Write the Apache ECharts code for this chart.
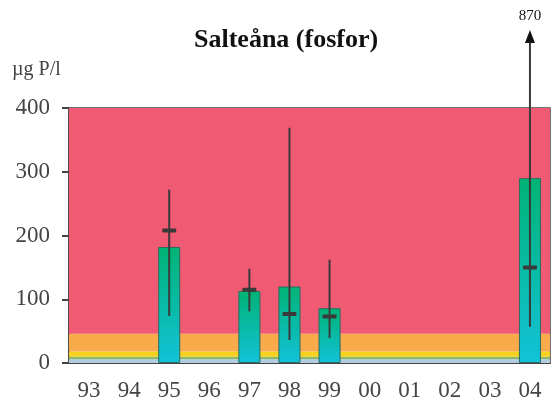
<!DOCTYPE html>
<html>
<head>
<meta charset="utf-8">
<script src="https://cdn.jsdelivr.net/npm/echarts@6/dist/echarts.min.js"></script>
<style>
  html, body { margin: 0; padding: 0; background: #fff; }
  #chart { width: 552px; height: 414px; }
</style>
</head>
<body>
<div id="chart"></div>
<script>
// years (two digit labels)
const years = ['93', '94', '95', '96', '97', '98', '99', '00', '01', '02', '03', '04']
// yearly mean (bars)
const means = ['-', '-', 182, '-', 113, 120, 86, '-', '-', '-', '-', 290]
// min / max / median per year
const mins = [null, null, 74, null, 81, 36, 39, null, null, null, null, 57]
const maxs = [null, null, 272, null, 148, 369, 162, null, null, null, null, 870]
const medians = [null, null, 208, null, 115, 77, 73, null, null, null, null, 150]
// class limits (background bands)
const bandLimits = [0, 6, 10, 18, 46, 400]
const bandColors = ['#b3cde0', '#8db56c', '#f5d21f', '#f9aa4a', '#f05a73']

const yMax = 400

const whiskerData = []
years.forEach((y, i) => {
    if (maxs[i] != null) whiskerData.push([i, mins[i], maxs[i], medians[i]])
})

const bands = []
for (let i = 0; i < bandColors.length; i++) {
    bands.push([
        { yAxis: bandLimits[i], itemStyle: { color: bandColors[i] } },
        { yAxis: bandLimits[i + 1] }
    ])
}

const chart = echarts.init(document.getElementById('chart'))
const serif = 'Liberation Serif'

const option = {
    animation: false,
    title: {
        text: 'Salteåna (fosfor)',
        left: 189,
        top: 22,
        textStyle: { fontFamily: serif, fontSize: 26, fontWeight: 'bold', color: '#111' }
    },
    grid: {
        left: 69,
        right: 2,
        top: 108,
        bottom: 51,
        show: true,
        borderColor: '#444',
        borderWidth: 1.5
    },
    xAxis: {
        type: 'category',
        data: years,
        axisLine: { lineStyle: { color: '#444', width: 2 } },
        axisTick: { length: 7, lineStyle: { color: '#444', width: 2 } },
        axisLabel: { fontFamily: serif, fontSize: 23, color: '#444', margin: 16 }
    },
    yAxis: {
        type: 'value',
        min: 0,
        max: yMax,
        interval: 100,
        name: 'µg P/l',
        nameLocation: 'end',
        nameGap: 28,
        nameTextStyle: { fontFamily: serif, fontSize: 20, color: '#444', align: 'left', padding: [0, 0, 0, -57] },
        axisLine: { show: true, lineStyle: { color: '#444', width: 1.5 } },
        axisTick: { show: true, length: 7, lineStyle: { color: '#444', width: 2 } },
        axisLabel: { fontFamily: serif, fontSize: 23, color: '#444', margin: 19 },
        splitLine: { show: false }
    },
    series: [
        {
            type: 'bar',
            data: means,
            barWidth: '55%',
            z: 3,
            itemStyle: {
                color: new echarts.graphic.LinearGradient(0, 0, 0, 1, [
                    { offset: 0, color: '#00b374' },
                    { offset: 1, color: '#12c2d9' }
                ]),
                borderColor: '#2e6b5e',
                borderWidth: 1
            },
            markArea: {
                silent: true,
                z: 1,
                data: bands
            }
        },
        {
            type: 'custom',
            z: 5,
            clip: false,
            data: whiskerData,
            renderItem(params, api) {
                const x = api.value(0)
                const lo = api.coord([x, api.value(1)])
                const hiVal = api.value(2)
                const med = api.coord([x, api.value(3)])
                const over = hiVal > yMax
                const top = over ? api.coord([x, yMax])[1] - 75 : api.coord([x, hiVal])[1]
                const style = { stroke: '#3a3a3a', lineWidth: 2 }
                const children = [
                    { type: 'line', shape: { x1: lo[0], y1: lo[1], x2: lo[0], y2: top }, style },
                    {
                        type: 'rect',
                        shape: { x: med[0] - 7, y: med[1] - 2, width: 14, height: 4, r: 1 },
                        style: { fill: '#3a3a3a' }
                    }
                ]
                if (over) {
                    children.push({
                        type: 'polygon',
                        shape: { points: [[lo[0], top - 3], [lo[0] - 5, top + 10], [lo[0] + 5, top + 10]] },
                        style: { fill: '#111' }
                    })
                    children.push({
                        type: 'text',
                        style: {
                            text: String(hiVal), x: lo[0], y: top - 9,
                            align: 'center', verticalAlign: 'bottom',
                            font: '15px ' + serif, fill: '#111'
                        }
                    })
                }
                return { type: 'group', children }
            }
        }
    ]
}

chart.setOption(option)
</script>
</body>
</html>
